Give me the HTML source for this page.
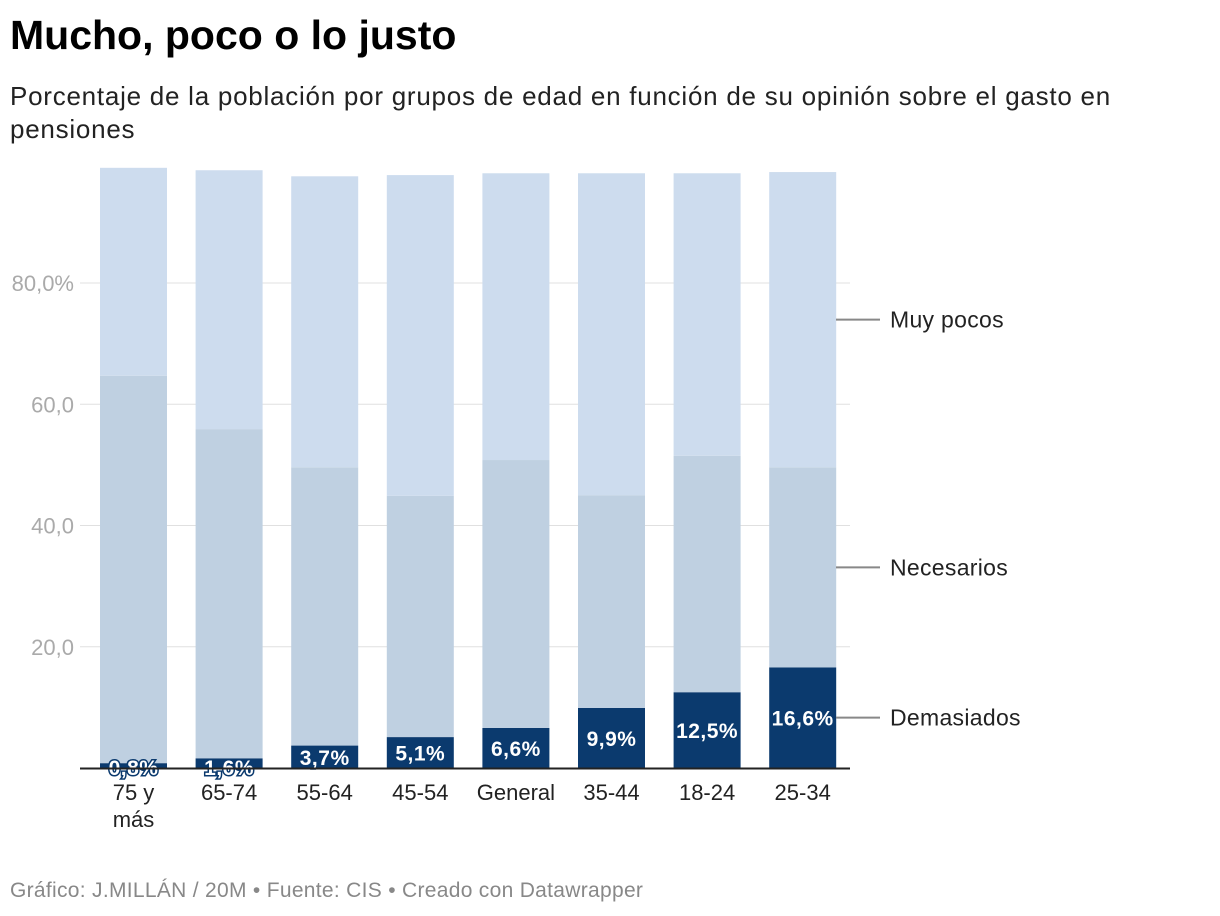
<!DOCTYPE html>
<html><head><meta charset="utf-8"><style>
body{margin:0;background:#fff;width:1220px;height:916px;overflow:hidden;font-family:"Liberation Sans",sans-serif}
h1{position:absolute;left:10px;top:12px;margin:0;font-size:41px;font-weight:bold;color:#000;letter-spacing:0px}
.sub{position:absolute;left:10px;top:80px;font-size:26px;line-height:33px;color:#222;width:1140px;letter-spacing:0.75px}
.foot{position:absolute;left:10px;top:879px;font-size:21px;color:#888;letter-spacing:0.3px}
svg{position:absolute;left:0;top:0}
</style></head><body>
<h1>Mucho, poco o lo justo</h1>
<div class="sub">Porcentaje de la población por grupos de edad en función de su opinión sobre el gasto en pensiones</div>
<svg id="c" width="1220" height="916"></svg>
<div class="foot">Gráfico: J.MILLÁN / 20M • Fuente: CIS • Creado con Datawrapper</div>
<script>
const categories=["75 y|más","65-74","55-64","45-54","General","35-44","18-24","25-34"];
const demasiados=[0.8,1.6,3.7,5.1,6.6,9.9,12.5,16.6];
const necesarios=[63.9,54.3,45.9,39.8,44.2,35.1,39.0,33.0];
const muyPocos=[34.3,42.7,48.0,52.9,47.3,53.1,46.6,48.7];
const yTicks=[20,40,60,80];
const yTickLabels=["20,0","40,0","60,0","80,0%"];
const seriesNames=["Demasiados","Necesarios","Muy pocos"];
const svg=document.getElementById('c');const NS='http://www.w3.org/2000/svg';
const y0=768,k=6.0625,x0=100,step=95.6,bw=67;
const y=v=>y0-v*k, x=i=>x0+i*step;
function mk(t,a,txt){const e=document.createElementNS(NS,t);for(const n in a)e.setAttribute(n,a[n]);if(txt!==undefined)e.textContent=txt;svg.appendChild(e);return e;}
yTicks.forEach((t,i)=>{
 const g=mk('line',{x1:80,x2:850,y1:y(t),y2:y(t),stroke:'#e0e0e0','stroke-width':1});
 
 
 const l=mk('text',{x:74,y:y(t)+8,'text-anchor':'end','font-size':22,fill:'#aaa'},yTickLabels[i]);
 
 
});
const cols=['#0b3a6e','#bfd0e1','#cddcee'];
categories.forEach((c,i)=>{
 const vals=[demasiados[i],necesarios[i],muyPocos[i]];let base=0;
 vals.forEach((v,j)=>{
  const r=mk('rect',{x:x(i),y:y(base+v),width:bw,height:v*k,fill:cols[j]});
  
  
  base+=v;
 });
 const d=demasiados[i];
 const vl=mk('text',{x:x(i)+bw/2,y:d<3?y0+7:y(d/2)+8,'text-anchor':'middle','font-size':21,'font-weight':'bold',fill:'#fff',stroke:'#0b3a6e','stroke-width':3,'paint-order':'stroke','letter-spacing':'0.5'},d.toFixed(1).replace('.',',')+'%');
 
 
 c.split('|').forEach((p,n)=>{
  const t=mk('text',{x:x(i)+bw/2,y:800+n*27,'text-anchor':'middle','font-size':22,fill:'#222'},p);
  
  
 });
});
const ax=mk('line',{x1:80,x2:850,y1:y0+0.5,y2:y0+0.5,stroke:'#222','stroke-width':2});


const last=categories.length-1;
[demasiados[last]/2,demasiados[last]+necesarios[last]/2,demasiados[last]+necesarios[last]+muyPocos[last]/2].forEach((v,j)=>{
 const ln=mk('line',{x1:836,x2:880,y1:y(v),y2:y(v),stroke:'#888','stroke-width':2});
 
 
 const t=mk('text',{x:890,y:y(v)+8,'font-size':23,fill:'#222','letter-spacing':'0.3'},seriesNames[j]);
 
 
});
</script>
</body></html>
